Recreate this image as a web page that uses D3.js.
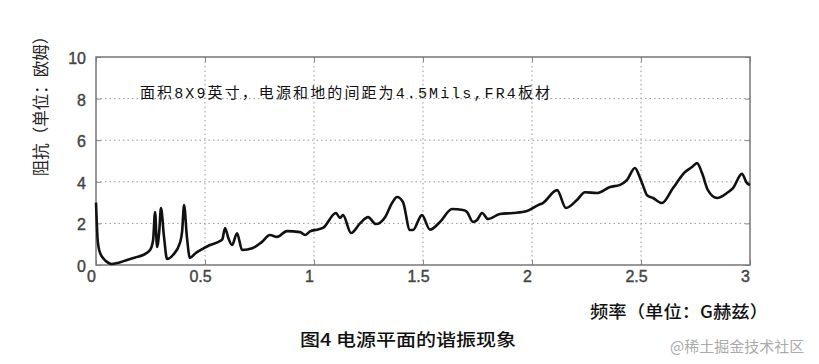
<!DOCTYPE html>
<html>
<head>
<meta charset="utf-8">
<script src="https://cdn.jsdelivr.net/npm/d3@7/dist/d3.min.js"></script>
<style>
  body { margin: 0; background: #fff; }
  svg { display: block; }
</style>
</head>
<body>
<svg id="chart" width="819" height="364"></svg>
<script>
// frequency in GHz, impedance in ohm
const freq = [0, 0.003, 0.007, 0.012, 0.02, 0.035, 0.05, 0.07, 0.1, 0.142, 0.18, 0.216, 0.248, 0.262, 0.271,
  0.28, 0.29, 0.298, 0.312, 0.326, 0.353, 0.385, 0.395, 0.404, 0.417, 0.431, 0.455, 0.477, 0.523, 0.569,
  0.58, 0.592, 0.607, 0.624, 0.647, 0.67, 0.72, 0.76, 0.798, 0.83, 0.876, 0.936, 0.959, 0.982,
  1.014, 1.041, 1.101, 1.119, 1.133, 1.17, 1.211, 1.248, 1.284, 1.326, 1.358, 1.381, 1.408,
  1.44, 1.454, 1.495, 1.532, 1.578, 1.633, 1.683, 1.702, 1.729, 1.748, 1.771, 1.798, 1.853,
  1.913, 1.977, 2.028, 2.05, 2.115, 2.156, 2.206, 2.243, 2.298, 2.358, 2.404, 2.436, 2.472,
  2.495, 2.51, 2.528, 2.555, 2.596, 2.647, 2.702, 2.734, 2.757, 2.78, 2.807, 2.849, 2.894,
  2.922, 2.963, 2.986, 3.0];
const impedance = [3.0, 2.2, 1.3, 0.85, 0.55, 0.3, 0.15, 0.05, 0.1, 0.24, 0.36, 0.48, 0.72, 1.2, 2.55,
  0.87, 1.6, 2.74, 1.35, 0.29, 0.48, 1.06, 1.6, 2.88, 1.35, 0.34, 0.55, 0.7, 0.96, 1.15,
  1.25, 1.78, 1.3, 0.96, 1.53, 0.72, 0.82, 1.1, 1.44, 1.35, 1.63, 1.58, 1.44, 1.62,
  1.7, 1.78, 2.5, 2.26, 2.4, 1.54, 2.0, 2.3, 1.97, 2.3, 2.98, 3.27, 3.03,
  1.68, 1.68, 2.4, 1.7, 2.07, 2.69, 2.64, 2.55, 2.07, 2.16, 2.5, 2.21, 2.45,
  2.5, 2.6, 2.88, 2.98, 3.6, 2.74, 3.12, 3.5, 3.46, 3.75, 3.85, 4.09, 4.66,
  4.2, 3.8, 3.35, 3.22, 2.98, 3.7, 4.47, 4.71, 4.9, 4.42, 3.6, 3.22, 3.46,
  3.7, 4.38, 3.94, 3.85];

const xTicks = [0, 0.5, 1, 1.5, 2, 2.5, 3];
const xTickLabels = ["0", "0.5", "1", "1.5", "2", "2.5", "3"];
const yTicks = [0, 2, 4, 6, 8, 10];

const note = "面积8X9英寸，电源和地的间距为4.5Mils,FR4板材";
const yTitle = "阻抗（单位：欧姆）";
const xTitle = "频率（单位：G赫兹）";
const caption = "图4  电源平面的谐振现象";
const watermark = "@稀土掘金技术社区";

const svg = d3.select("#chart");
const plotLeft = 96, plotRight = 750, plotTop = 57, plotBottom = 265;

const x = d3.scaleLinear().domain([0, 3]).range([plotLeft, plotRight]);
const y = d3.scaleLinear().domain([0, 10]).range([plotBottom, plotTop]);

svg.append("rect").attr("width", 819).attr("height", 364).attr("fill", "#fff");

// dotted grid
const grid = svg.append("g").attr("stroke", "#999").attr("stroke-width", 1)
  .attr("stroke-dasharray", "1.5,3");
grid.selectAll(".gx").data(xTicks.slice(1, -1)).enter().append("line")
  .attr("x1", d => x(d)).attr("x2", d => x(d)).attr("y1", plotTop).attr("y2", plotBottom);
grid.selectAll(".gy").data(yTicks.slice(1, -1)).enter().append("line")
  .attr("y1", d => y(d)).attr("y2", d => y(d)).attr("x1", plotLeft).attr("x2", plotRight);

// axes with inside ticks
const tickFont = "'Liberation Sans', Arial, sans-serif";
const xAxis = svg.append("g").attr("transform", `translate(0,${plotBottom})`)
  .call(d3.axisBottom(x).tickValues(xTicks).tickFormat((d, i) => xTickLabels[i])
    .tickSize(-5).tickPadding(6));
xAxis.selectAll("text").attr("dx", "-5");

const yAxis = svg.append("g").attr("transform", `translate(${plotLeft},0)`)
  .call(d3.axisLeft(y).tickValues(yTicks).tickSize(-5).tickPadding(10));
yAxis.selectAll("text").attr("dy", "0.4em");

svg.append("g").attr("transform", `translate(0,${plotTop})`)
  .call(d3.axisTop(x).tickValues(xTicks).tickSize(-5).tickFormat(""));
svg.append("g").attr("transform", `translate(${plotRight},0)`)
  .call(d3.axisRight(y).tickValues(yTicks).tickSize(-5).tickFormat(""));

svg.selectAll(".domain").remove();
svg.selectAll(".tick line").attr("stroke", "#888");
svg.selectAll(".tick text").attr("font-family", tickFont).attr("font-size", 16)
  .attr("fill", "#444").attr("stroke", "#444").attr("stroke-width", 0.4);

// frame
svg.append("rect").attr("x", plotLeft).attr("y", plotTop)
  .attr("width", plotRight - plotLeft).attr("height", plotBottom - plotTop)
  .attr("fill", "none").attr("stroke", "#777").attr("stroke-width", 1.5);

// curve
const line = d3.line().x(d => x(d[0])).y(d => y(d[1])).curve(d3.curveMonotoneX);
svg.append("path").datum(d3.zip(freq, impedance))
  .attr("d", line).attr("fill", "none").attr("stroke", "#111")
  .attr("stroke-width", 2.6).attr("stroke-linejoin", "round");

// texts
const cjk = "'Noto Sans CJK SC', sans-serif";
svg.append("text").attr("x", 140).attr("y", 98)
  .attr("font-family", "'Liberation Mono', 'Noto Sans CJK SC', monospace")
  .attr("font-size", 15).attr("fill", "#111")
  .attr("textLength", 410).attr("lengthAdjust", "spacing")
  .text(note);

svg.append("text").attr("transform", "translate(47,102) rotate(-90)")
  .attr("text-anchor", "middle").attr("font-family", cjk)
  .attr("font-size", 16.5).attr("fill", "#222").text(yTitle);

svg.append("text").attr("x", 590).attr("y", 318)
  .attr("font-family", cjk).attr("font-size", 17).attr("font-weight", 500).attr("fill", "#111")
  .attr("textLength", 178).attr("lengthAdjust", "spacingAndGlyphs").text(xTitle);

svg.append("text").attr("x", 300).attr("y", 346)
  .attr("font-family", cjk).attr("font-size", 17).attr("font-weight", 500).attr("fill", "#111")
  .attr("textLength", 216).attr("lengthAdjust", "spacingAndGlyphs").text(caption);

svg.append("text").attr("x", 670).attr("y", 352)
  .attr("font-family", cjk).attr("font-size", 15).attr("fill", "#aaa")
  .text(watermark);
</script>
</body>
</html>
